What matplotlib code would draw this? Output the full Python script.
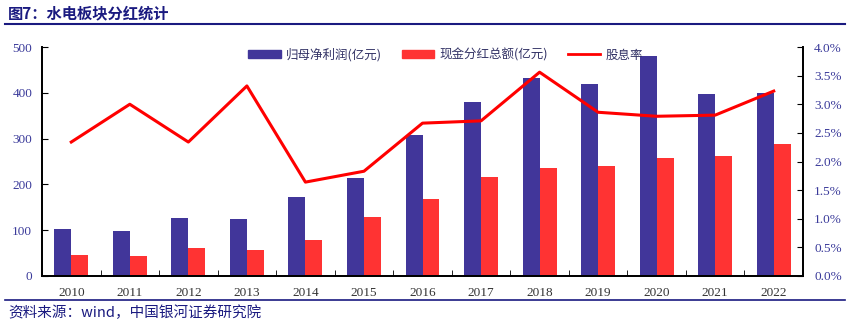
import numpy as np
import matplotlib.pyplot as plt
from matplotlib.lines import Line2D
from matplotlib.patches import Patch

plt.rcParams['font.family'] = ['Noto Sans CJK SC', 'DejaVu Sans']

years = ['2010', '2011', '2012', '2013', '2014', '2015', '2016',
         '2017', '2018', '2019', '2020', '2021', '2022']
net_profit = [103, 98, 127, 124, 172, 214, 308, 380, 433, 419, 480, 397, 399]
dividend = [46, 44, 61, 57, 78, 129, 168, 216, 236, 240, 258, 261, 288]
yield_pct = [2.34, 3.00, 2.34, 3.32, 1.64, 1.83, 2.67, 2.71, 3.56, 2.86, 2.79, 2.81, 3.23]

navy = '#1a1a80'
tick_color = '#3a3a9a'
blue = '#41369a'
red = '#ff3333'

fig = plt.figure(figsize=(8.49, 3.30), dpi=100)
ax = fig.add_axes([42 / 849, 54 / 330, 761 / 849, 229 / 330])
ax2 = ax.twinx()

x = np.arange(len(years))
w = 0.29
ax.bar(x - w / 2, net_profit, w, color=blue, zorder=2)
ax.bar(x + w / 2, dividend, w, color=red, zorder=2)
ax2.plot(x, yield_pct, color='#ff0000', lw=2.2, zorder=3)

ax.set_xlim(-0.5, len(years) - 0.5)
ax.set_ylim(0, 500)
ax.set_yticks(range(0, 501, 100))
ax2.set_ylim(0, 4.0)
ax2.set_yticks(np.arange(0, 4.01, 0.5))
ax2.set_yticklabels(['%.1f%%' % v for v in np.arange(0, 4.01, 0.5)])

ax.set_xticks(x)
ax.set_xticklabels(years)
ax.set_xticks(np.arange(-0.5, len(years)), minor=True)
ax.tick_params(axis='x', which='major', length=0, pad=8)
ax.tick_params(axis='x', which='minor', direction='in', length=4)
ax.tick_params(axis='y', direction='in', length=4, pad=7)
ax2.tick_params(axis='y', direction='in', length=4, pad=8)

for a in (ax, ax2):
    a.spines['top'].set_visible(False)
    for s in a.spines.values():
        s.set_linewidth(1.3)
    for lab in a.get_yticklabels() + a.get_xticklabels():
        lab.set_family(['Liberation Serif'])
        lab.set_fontsize(9.5)
        lab.set_color(tick_color)
for lab in ax.get_xticklabels():
    lab.set_color('#333333')

handles = [Patch(color=blue), Patch(color=red), Line2D([0], [0], color='#ff0000', lw=2)]
labels = ['归母净利润(亿元)', '现金分红总额(亿元)', '股息率']
leg = ax.legend(handles, labels, loc='upper left', bbox_to_anchor=(195 / 761, 1.045), ncol=3,
                frameon=False, fontsize=9, handlelength=2.6, handleheight=0.5,
                columnspacing=1.6, handletextpad=0.4)
for t in leg.get_texts():
    t.set_color('#333366')

fig.text(8 / 849, 1 - 13 / 330, '图7：水电板块分红统计', fontsize=11, fontweight='bold',
         color=navy, va='center', ha='left')
fig.add_artist(Line2D([5 / 849, 845 / 849], [1 - 24 / 330, 1 - 24 / 330], color=navy, lw=1.5))
fig.add_artist(Line2D([5 / 849, 845 / 849], [1 - 300 / 330, 1 - 300 / 330], color=navy, lw=1.2))
fig.text(8 / 849, 1 - 313 / 330, '资料来源：wind，中国银河证券研究院', fontsize=10.5, style='italic',
         color=navy, va='center', ha='left')

fig.savefig('out.png', dpi=100)
